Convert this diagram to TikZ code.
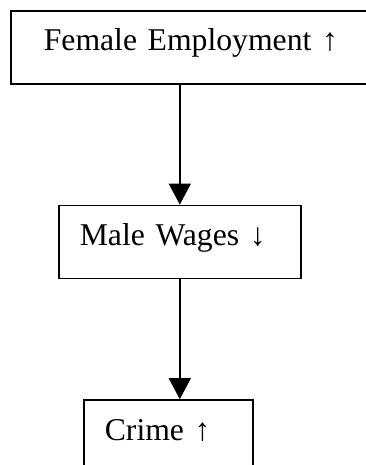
\documentclass[tikz,border=0pt]{standalone}
\usepackage{fontspec}
\setmainfont{Liberation Serif}
\usetikzlibrary{positioning,arrows.meta}

\begin{document}
\begin{tikzpicture}[
    box/.style={draw, line width=1.6pt, inner xsep=21pt, inner ysep=0pt,
      text height=40pt, text depth=33pt, align=left,
      font=\fontsize{31.7}{38}\selectfont},
    link/.style={line width=1.4pt, -{Triangle[length=21pt,width=22pt]}}
  ]
          \clip (0,0) rectangle (366pt,-465pt);
          \node[box, anchor=north west, inner xsep=33pt, text width=300pt] (emp) at (10pt,-10pt) {Female Employment \textbf{↑}};
          \node[box, text width=200pt, below = 120pt of emp.south, anchor=north, xshift=-14pt] (wage) {Male Wages \textbf{↓}};
          \node[box, text width=127pt, below = 120pt of wage, xshift=-11.5pt] (crime) {Crime \textbf{↑}};

          \draw [link] (wage.north |- emp.south) -- (wage.north);
          \draw [link] (wage.south) -- (wage.south |- crime.north);
        \end{tikzpicture}
\end{document}
